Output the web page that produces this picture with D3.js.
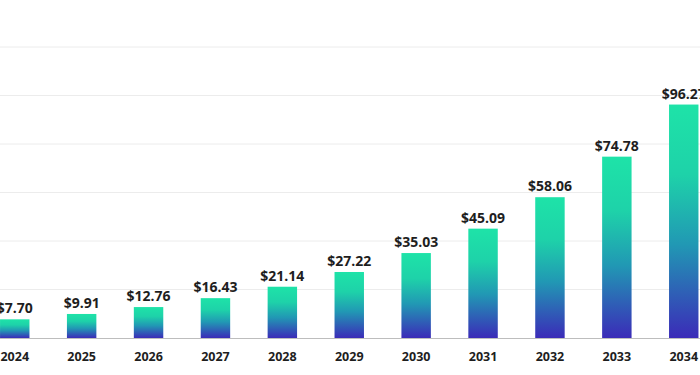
<!DOCTYPE html>
<html><head><meta charset="utf-8">
<script src="https://cdn.jsdelivr.net/npm/d3@7"></script>
<style>html,body{margin:0;padding:0;background:#fff;overflow:hidden}</style>
</head><body><svg id="c" width="700" height="375"></svg>
<script>
const years = ["2024","2025","2026","2027","2028","2029","2030","2031","2032","2033","2034"];
const values = [7.70, 9.91, 12.76, 16.43, 21.14, 27.22, 35.03, 45.09, 58.06, 74.78, 96.27];
const gridTicks = [0, 20, 40, 60, 80, 100, 120];

const svg = d3.select("#c");
const baseY = 338, topY = 47;
const y = d3.scaleLinear().domain([0, 120]).range([baseY, topY]);
const x = d3.scaleBand().domain(years).range([-18.7, 717.2]).paddingInner(0.56).paddingOuter(0.28);

const defs = svg.append("defs");
const g = defs.append("linearGradient").attr("id","bg").attr("x1",0).attr("y1",0).attr("x2",0).attr("y2",1);
[[0,"#1ee3a8"],[0.3,"#1ed2a9"],[0.6,"#2198b4"],[1,"#3b2bb8"]].forEach(([o,c])=>g.append("stop").attr("offset",o).attr("stop-color",c));

svg.append("g").selectAll("line").data(gridTicks.slice(1)).join("line")
  .attr("x1",0).attr("x2",700).attr("y1",d=>y(d)).attr("y2",d=>y(d))
  .attr("stroke","#ececec").attr("stroke-width",1);

svg.append("g").selectAll("rect").data(values).join("rect")
  .attr("x",(d,i)=>x(years[i])).attr("width",x.bandwidth())
  .attr("y",d=>y(d)).attr("height",d=>baseY-y(d)).attr("fill","url(#bg)");

svg.append("line").attr("x1",0).attr("x2",700).attr("y1",baseY+0.5).attr("y2",baseY+0.5)
  .attr("stroke","#bdbdbd").attr("stroke-width",1);

svg.append("g").selectAll("text").data(values).join("text")
  .attr("x",(d,i)=>x(years[i])+x.bandwidth()/2).attr("y",d=>y(d)-6)
  .attr("text-anchor","middle").attr("font-family","'Open Sans', sans-serif")
  .attr("font-weight","bold").attr("font-size",14).attr("fill","#1e1e1e")
  .text(d=>"$"+d.toFixed(2));

svg.append("g").selectAll("text").data(years).join("text")
  .attr("x",d=>x(d)+x.bandwidth()/2).attr("y",361)
  .attr("text-anchor","middle").attr("font-family","'Open Sans', sans-serif")
  .attr("font-weight","bold").attr("font-size",12.5).attr("fill","#1e1e1e")
  .text(d=>d);
</script></body></html>
